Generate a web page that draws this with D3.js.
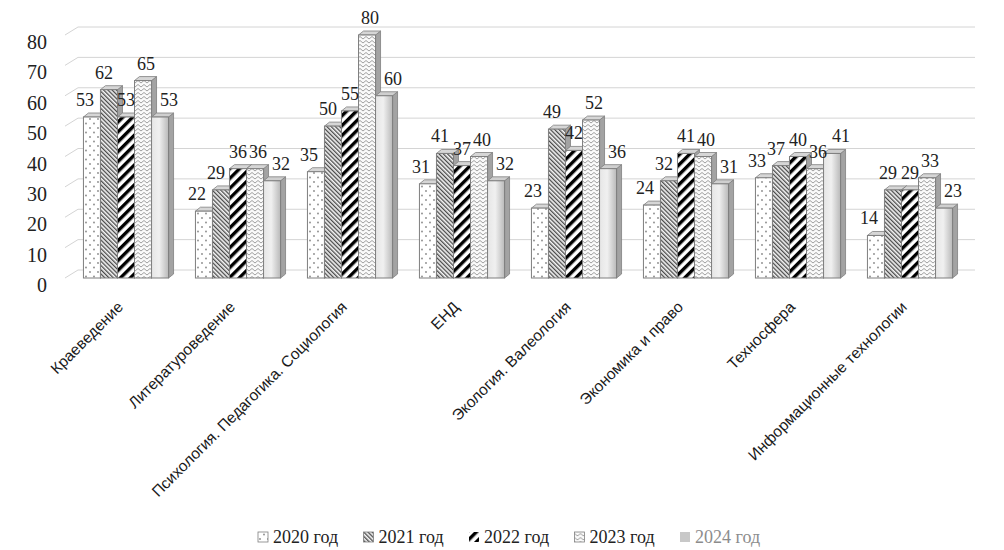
<!DOCTYPE html>
<html>
<head>
<meta charset="utf-8">
<script src="https://cdn.jsdelivr.net/npm/d3@7"></script>
<style>
  body { margin: 0; background: #fff; }
</style>
</head>
<body>
<svg id="chart" width="1004" height="550"></svg>
<script>
'use strict';

// data
var categories = ["Краеведение", "Литературоведение", "Психология. Педагогика. Социология", "ЕНД",
                  "Экология. Валеология", "Экономика и право", "Техносфера", "Информационные технологии"];
var years = ["2020 год", "2021 год", "2022 год", "2023 год", "2024 год"];
var v2020 = [53, 22, 35, 31, 23, 24, 33, 14];
var v2021 = [62, 29, 50, 41, 49, 32, 37, 29];
var v2022 = [53, 36, 55, 37, 42, 41, 40, 29];
var v2023 = [65, 36, 80, 40, 52, 40, 36, 33];
var v2024 = [53, 32, 60, 32, 36, 31, 41, 23];
var yTicks = [0, 10, 20, 30, 40, 50, 60, 70, 80];

var series = [v2020, v2021, v2022, v2023, v2024];
var fills = ["url(#p2020)", "url(#p2021)", "url(#p2022)", "url(#p2023)", "url(#g2024)"];
var labelShift = [-7, -5, 0, 3, 9]; // excel pushes the labels apart a bit

var svg = d3.select("#chart");

var y = d3.scaleLinear().domain([0, 80]).range([278, 35]);
var x0 = d3.scaleBand().domain(categories).range([70, 966]).paddingInner(0.24).paddingOuter(0.12);
var x1 = d3.scaleBand().domain(years).range([0, x0.bandwidth()]);

var wall = { dx: 13, dy: -8 };  // back wall offset
var bd = { dx: 5, dy: -4 };     // bar depth

/*
  patterns
*/
var defs = svg.append("defs");

var p = defs.append("pattern").attr("id", "p2020").attr("patternUnits", "userSpaceOnUse")
    .attr("width", 8).attr("height", 9);
p.append("rect").attr("width", 8).attr("height", 9).attr("fill", "#fff");
p.append("circle").attr("cx", 2).attr("cy", 2).attr("r", 0.9).attr("fill", "#888");
p.append("circle").attr("cx", 6).attr("cy", 6.5).attr("r", 0.9).attr("fill", "#888");

p = defs.append("pattern").attr("id", "p2021").attr("patternUnits", "userSpaceOnUse")
    .attr("width", 3).attr("height", 3).attr("patternTransform", "rotate(-45)");
p.append("rect").attr("width", 3).attr("height", 3).attr("fill", "#f4f4f4");
p.append("rect").attr("width", 1.3).attr("height", 3).attr("fill", "#4a4a4a");

p = defs.append("pattern").attr("id", "p2022").attr("patternUnits", "userSpaceOnUse")
    .attr("width", 7).attr("height", 7).attr("patternTransform", "rotate(45)");
p.append("rect").attr("width", 7).attr("height", 7).attr("fill", "#fff");
p.append("rect").attr("width", 3.4).attr("height", 7).attr("fill", "#000");

p = defs.append("pattern").attr("id", "p2023").attr("patternUnits", "userSpaceOnUse")
    .attr("width", 6).attr("height", 4);
p.append("rect").attr("width", 6).attr("height", 4).attr("fill", "#fafafa");
p.append("path").attr("d", "M0,0.5L3,3L6,0.5").attr("fill", "none").attr("stroke", "#a0a0a0").attr("stroke-width", 1);

var g = defs.append("linearGradient").attr("id", "g2024").attr("x1", 0).attr("x2", 1).attr("y1", 0).attr("y2", 0);
g.append("stop").attr("offset", "0%").attr("stop-color", "#e6e6e6");
g.append("stop").attr("offset", "45%").attr("stop-color", "#f0f0f0");
g.append("stop").attr("offset", "100%").attr("stop-color", "#b9b9b9");

/*
  walls and grid
*/
var grid = svg.append("g");
grid.selectAll(".hline").data(yTicks).enter().append("line")
    .attr("x1", 65 + wall.dx).attr("x2", 975)
    .attr("y1", function (d) { return y(d) + wall.dy; })
    .attr("y2", function (d) { return y(d) + wall.dy; })
    .attr("stroke", "#d4d4d4").attr("stroke-width", 1);
grid.selectAll(".dline").data(yTicks).enter().append("line")
    .attr("x1", 65).attr("x2", 65 + wall.dx)
    .attr("y1", function (d) { return y(d); })
    .attr("y2", function (d) { return y(d) + wall.dy; })
    .attr("stroke", "#d4d4d4").attr("stroke-width", 1);

svg.append("g").selectAll("text").data(yTicks).enter().append("text")
    .attr("x", 47).attr("y", function (d) { return y(d) + 7; })
    .attr("dy", "0.35em")
    .attr("text-anchor", "end")
    .style("font-family", "'Liberation Serif', serif").style("font-size", "20px").attr("fill", "#222")
    .text(function (d) { return d; });

/*
  bars
*/
var bars = svg.append("g");
categories.forEach(function (c, ci) {
    series.forEach(function (s, si) {
        var bx = x0(c) + x1(years[si]), w = x1.bandwidth();
        var top = y(s[ci]), bot = y(0);
        var b = bars.append("g");
        // side
        b.append("path")
            .attr("d", "M" + (bx + w) + "," + top + "L" + (bx + w + bd.dx) + "," + (top + bd.dy) +
                "L" + (bx + w + bd.dx) + "," + (bot + bd.dy) + "L" + (bx + w) + "," + bot + "Z")
            .attr("fill", "#a3a3a3").attr("stroke", "#7f7f7f").attr("stroke-width", 0.8);
        // top
        b.append("path")
            .attr("d", "M" + bx + "," + top + "L" + (bx + bd.dx) + "," + (top + bd.dy) +
                "L" + (bx + w + bd.dx) + "," + (top + bd.dy) + "L" + (bx + w) + "," + top + "Z")
            .attr("fill", si === 4 ? "#cfcfcf" : "#d6d6d6").attr("stroke", "#7f7f7f").attr("stroke-width", 0.8);
        // front
        b.append("rect")
            .attr("x", bx).attr("y", top).attr("width", w).attr("height", bot - top)
            .attr("fill", fills[si]).attr("stroke", "#7f7f7f").attr("stroke-width", 1);
    });
});

/*
  value labels
*/
var labels = svg.append("g")
    .style("font-family", "'Liberation Serif', serif").style("font-size", "18px").attr("fill", "#222");
categories.forEach(function (c, ci) {
    series.forEach(function (s, si) {
        labels.append("text")
            .attr("x", x0(c) + x1(years[si]) + x1.bandwidth() / 2 + labelShift[si])
            .attr("y", y(s[ci]) - 11)
            .attr("text-anchor", "middle")
            .text(s[ci]);
    });
});

/*
  category labels
*/
svg.append("g").selectAll("text").data(categories).enter().append("text")
    .attr("transform", function (d) {
        return "translate(" + (x0(d) + x0.bandwidth() / 2 - 2) + ",308) rotate(-45)";
    })
    .attr("text-anchor", "end")
    .style("font-family", "'Liberation Sans', sans-serif").style("font-size", "15.5px").attr("fill", "#1a1a1a")
    .text(function (d) { return d; });

/*
  legend
*/
var legend = svg.append("g").selectAll("g").data(years).enter().append("g")
    .attr("transform", function (d, i) { return "translate(" + (258 + i * 105.5) + ",537)"; });
legend.append("rect")
    .attr("x", 0).attr("y", -5).attr("width", 10).attr("height", 10)
    .attr("fill", function (d, i) { return i === 4 ? "#c8c8c8" : fills[i]; })
    .attr("stroke", function (d, i) { return i === 2 || i === 4 ? "none" : "#7f7f7f"; })
    .attr("stroke-width", 0.8);
legend.append("text")
    .attr("x", 15).attr("y", 0).attr("dy", "0.35em")
    .style("font-family", "'Liberation Serif', serif").style("font-size", "18px")
    .attr("fill", function (d, i) { return i === 4 ? "#8c8c8c" : "#222"; })
    .text(function (d) { return d; });
</script>
</body>
</html>
